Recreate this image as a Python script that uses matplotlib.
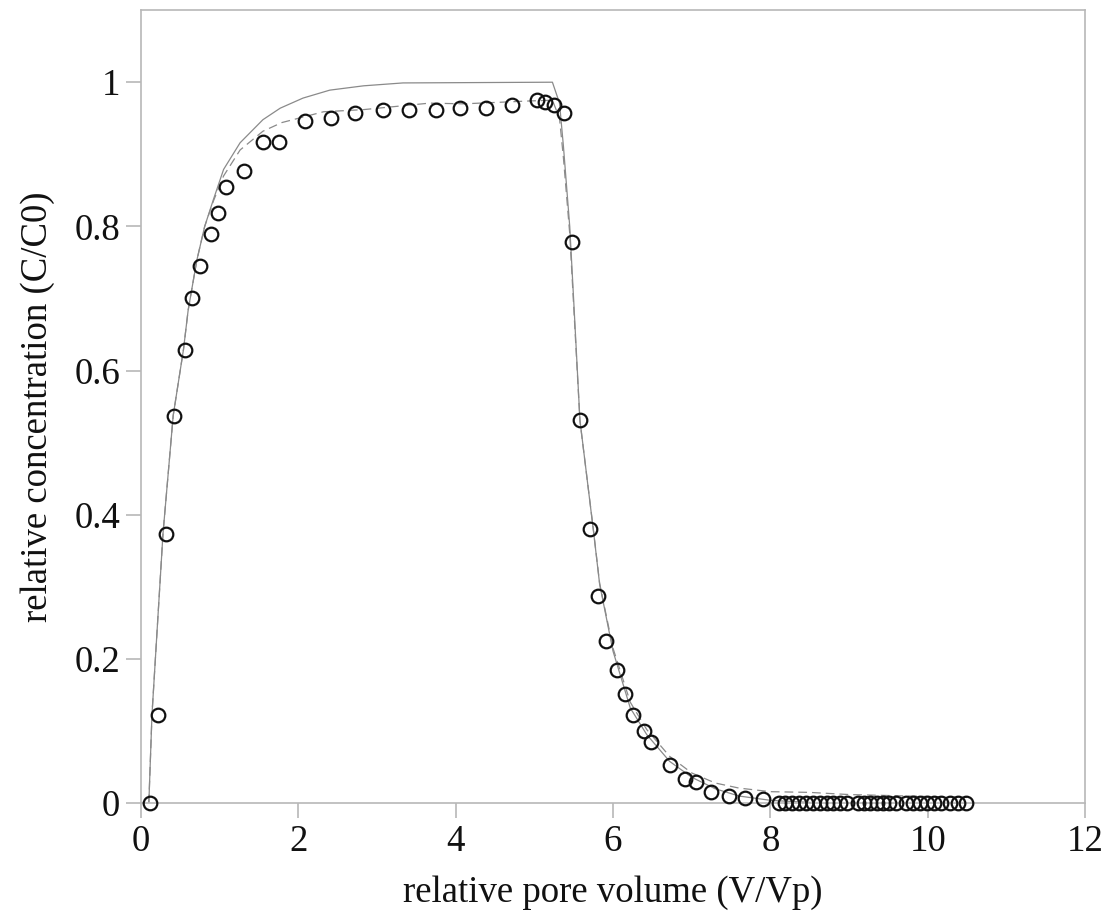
import matplotlib
matplotlib.use("Agg")
import matplotlib.pyplot as plt

# measured breakthrough data
obs_x = [0.11, 0.22, 0.32, 0.42, 0.56, 0.65, 0.75, 0.886, 0.98, 1.085,
         1.31, 1.55, 1.75, 2.08, 2.41, 2.72, 3.08, 3.41, 3.75, 4.05,
         4.38, 4.72, 5.04, 5.14, 5.25, 5.38, 5.48, 5.58, 5.71, 5.81,
         5.91, 6.05, 6.15, 6.25, 6.39, 6.48, 6.72, 6.91, 7.05, 7.25,
         7.48, 7.68, 7.91,
         8.11, 8.19, 8.28, 8.37, 8.45, 8.54, 8.63, 8.72, 8.80, 8.89,
         8.97, 9.11, 9.19, 9.27, 9.35, 9.43, 9.51, 9.60, 9.72, 9.81,
         9.90, 9.99, 10.08, 10.17, 10.29, 10.38, 10.49]
obs_y = [0.0, 0.122, 0.374, 0.537, 0.629, 0.701, 0.745, 0.790, 0.818, 0.855,
         0.877, 0.917, 0.917, 0.946, 0.950, 0.957, 0.961, 0.961, 0.961, 0.964,
         0.964, 0.968, 0.975, 0.972, 0.969, 0.957, 0.779, 0.531, 0.381, 0.287,
         0.225, 0.185, 0.151, 0.122, 0.100, 0.085, 0.053, 0.034, 0.030, 0.016,
         0.010, 0.007, 0.006,
         0.0, 0.0, 0.0, 0.0, 0.0, 0.0, 0.0, 0.0, 0.0, 0.0,
         0.0, 0.0, 0.0, 0.0, 0.0, 0.0, 0.0, 0.0, 0.0, 0.0,
         0.0, 0.0, 0.0, 0.0, 0.0, 0.0, 0.0]

# model 1 (solid)
m1_x = [0.1, 0.14, 0.28, 0.41, 0.54, 0.60, 0.71, 0.81, 0.92, 1.05, 1.26,
        1.55, 1.77, 2.06, 2.40, 2.83, 3.33, 5.23, 5.32, 5.37, 5.45, 5.50,
        5.58, 5.75, 5.83, 6.00, 6.22, 6.43, 6.72, 7.00, 7.30, 7.60, 8.00, 8.50]
m1_y = [0.0, 0.123, 0.374, 0.538, 0.629, 0.684, 0.753, 0.800, 0.837, 0.879, 0.916,
        0.948, 0.964, 0.978, 0.989, 0.995, 0.999, 1.0, 0.971, 0.911, 0.800, 0.698,
        0.531, 0.379, 0.304, 0.211, 0.132, 0.095, 0.058, 0.036, 0.020, 0.010, 0.004, 0.001]

# model 2 (dashed)
m2_x = [0.1, 0.14, 0.28, 0.41, 0.54, 0.60, 0.71, 0.81, 0.92, 1.05, 1.26,
        1.55, 1.79, 2.32, 2.83, 3.67, 4.10, 4.94, 5.23, 5.32, 5.37, 5.45,
        5.50, 5.58, 5.75, 5.83, 6.00, 6.22, 6.43, 6.72, 7.00, 7.30, 7.60,
        8.00, 8.50, 9.00, 10.50]
m2_y = [0.0, 0.123, 0.374, 0.538, 0.629, 0.684, 0.753, 0.800, 0.835, 0.870, 0.906,
        0.932, 0.944, 0.959, 0.962, 0.971, 0.970, 0.974, 0.975, 0.950, 0.895, 0.790,
        0.690, 0.530, 0.380, 0.305, 0.215, 0.140, 0.102, 0.065, 0.042, 0.028, 0.021,
        0.016, 0.015, 0.012, 0.008]

plt.rcParams['font.family'] = ['Liberation Serif', 'DejaVu Serif']

fig = plt.figure(figsize=(11.1, 9.19), dpi=100)
ax = fig.add_axes([0.127, 0.126, 0.8505, 0.863])

line_col = '#8a8a8a'
ax.plot(m1_x, m1_y, color=line_col, lw=0.9, zorder=2)
ax.plot(m2_x, m2_y, color=line_col, lw=0.9, dashes=(7, 4), zorder=2)
ax.plot(obs_x, obs_y, linestyle='none', marker='o', markersize=9.8,
        markerfacecolor='none', markeredgecolor='#111111', markeredgewidth=1.6,
        zorder=3, clip_on=False)

ax.set_xlim(0, 12)
ax.set_ylim(0, 1.1)
ax.set_xticks([0, 2, 4, 6, 8, 10, 12])
ax.set_yticks([0, 0.2, 0.4, 0.6, 0.8, 1.0])
ax.set_yticklabels(['0', '0.2', '0.4', '0.6', '0.8', '1'])

for s in ax.spines.values():
    s.set_color('#b8b8b8')
    s.set_linewidth(1.2)
ax.tick_params(direction='out', length=11, width=1.2, color='#b8b8b8',
               labelsize=26.5, labelcolor='#111111', pad=4)

ax.set_xlabel('relative pore volume (V/Vp)', fontsize=26.5, color='#111111', labelpad=12)
ax.set_ylabel('relative concentration (C/C0)', fontsize=26.5, color='#111111', labelpad=14)

fig.savefig('out.png', dpi=100)
